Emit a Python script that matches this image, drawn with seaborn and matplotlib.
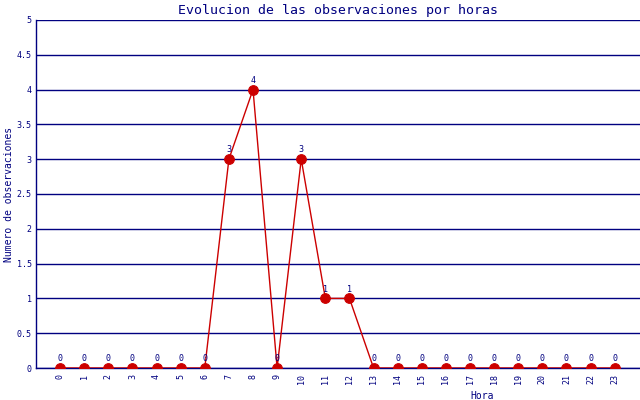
import matplotlib
matplotlib.use('Agg')
import matplotlib.pyplot as plt
import seaborn as sns
import pandas as pd

horas = list(range(24))
observaciones = [0, 0, 0, 0, 0, 0, 0, 3, 4, 0, 3, 1, 1, 0, 0, 0, 0, 0, 0, 0, 0, 0, 0, 0]
y_ticks = [0, 0.5, 1, 1.5, 2, 2.5, 3, 3.5, 4, 4.5, 5]
y_tick_labels = ['0', '0.5', '1', '1.5', '2', '2.5', '3', '3.5', '4', '4.5', '5']

navy = '#000080'
red = '#CC0000'

df = pd.DataFrame({'hora': horas, 'obs': observaciones})

sns.set_style('white')
plt.rcParams['font.family'] = ['DejaVu Sans Mono']

fig = plt.figure(figsize=(6.4, 4), dpi=100, facecolor='white')
ax = fig.add_axes([36 / 640, 32 / 400, 1 - 36 / 640, 348 / 400])

for yv in y_ticks:
    ax.axhline(yv, color=navy, linewidth=1, zorder=1)

sns.lineplot(data=df, x='hora', y='obs', ax=ax, color=red, linewidth=1,
             marker='o', markersize=7, markeredgecolor=red, markerfacecolor=red, zorder=3)

for h, v in zip(horas, observaciones):
    ax.text(h, v + 0.07, str(v), color=navy, fontsize=6, ha='center', va='bottom', zorder=4)

ax.set_xlim(-1, 24.05)
ax.set_ylim(0, 5)
ax.set_xticks(horas)
ax.set_xticklabels([str(h) for h in horas], rotation=90, fontsize=6, color=navy)
ax.set_yticks(y_ticks)
ax.set_yticklabels(y_tick_labels, fontsize=6, color=navy)
ax.tick_params(axis='x', length=2, color=navy, pad=2)
ax.tick_params(axis='y', length=0, pad=3)

for side in ['top', 'right']:
    ax.spines[side].set_visible(False)
ax.spines['left'].set_color(navy)
ax.spines['bottom'].set_color(navy)
ax.spines['left'].set_linewidth(1)
ax.spines['bottom'].set_linewidth(1)

ax.set_title('Evolucion de las observaciones por horas', color=navy, fontsize=9.5, pad=4)
ax.set_ylabel('Numero de observaciones', color=navy, fontsize=7)
ax.yaxis.set_label_coords((14 - 36) / 604, 0.5)
ax.set_xlabel('Hora', color=navy, fontsize=7, labelpad=2)
ax.xaxis.set_label_coords((482 - 36) / 604, -0.065)

fig.savefig('out.png', dpi=100, facecolor='white')
